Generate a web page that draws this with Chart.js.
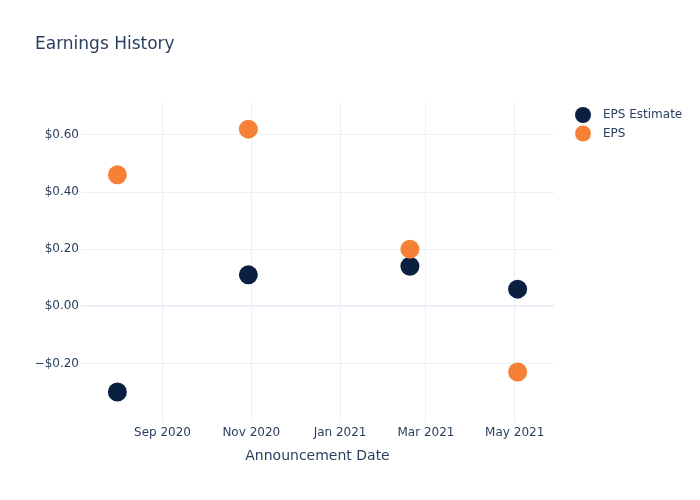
<!DOCTYPE html>
<html>
<head>
<meta charset="utf-8">
<script src="https://cdn.jsdelivr.net/npm/chart.js@4/dist/chart.umd.min.js"></script>
<style>
  html, body { margin: 0; padding: 0; background: #fff; }
  #wrap { width: 700px; height: 500px; position: relative; }
</style>
</head>
<body>
<div id="wrap"><canvas id="chart" width="700" height="500"></canvas></div>
<script>
// announcement dates (UTC) and values
const dates = ['2020-08-01', '2020-10-30', '2021-02-18', '2021-05-03'];
const epsEstimate = [-0.30, 0.11, 0.14, 0.06];
const eps = [0.46, 0.62, 0.20, -0.23];
const xTickDates = ['2020-09-01', '2020-11-01', '2021-01-01', '2021-03-01', '2021-05-01'];
const yTicks = [-0.2, 0, 0.2, 0.4, 0.6];
const xRange = ['2020-07-07', '2021-05-28'];
const yRange = [-0.405, 0.715];

const MONTHS = ['Jan', 'Feb', 'Mar', 'Apr', 'May', 'Jun', 'Jul', 'Aug', 'Sep', 'Oct', 'Nov', 'Dec'];
const ts = d => Date.parse(d + 'T00:00:00Z');

const NAVY = '#0b1f41';
const ORANGE = '#f68136';
const TEXT = '#2a3f5f';
const GRID = '#ebf0f8';
const FONT = '"DejaVu Sans", Verdana, sans-serif';

const toPoints = vals => dates.map((d, i) => ({ x: ts(d), y: vals[i] }));

// title, legend and x-axis title drawn at fixed spots like the plotly layout
const decorations = {
  id: 'decorations',
  afterDraw(chart) {
    const ctx = chart.ctx;
    const area = chart.chartArea;
    ctx.save();
    ctx.fillStyle = TEXT;
    ctx.textBaseline = 'middle';
    ctx.textAlign = 'left';
    ctx.font = `17px ${FONT}`;
    ctx.fillText('Earnings History', 35, 45);

    ctx.font = `14px ${FONT}`;
    ctx.textAlign = 'center';
    ctx.fillText('Announcement Date', (area.left + area.right) / 2, 456);

    const items = [['EPS Estimate', NAVY], ['EPS', ORANGE]];
    ctx.font = `12px ${FONT}`;
    ctx.textAlign = 'left';
    items.forEach(([label, color], i) => {
      const y = 115 + i * 18.5;
      ctx.beginPath();
      ctx.arc(583, y, 8, 0, Math.PI * 2);
      ctx.fillStyle = color;
      ctx.fill();
      ctx.fillStyle = TEXT;
      ctx.fillText(label, 603, y);
    });
    ctx.restore();
  }
};

new Chart(document.getElementById('chart'), {
  type: 'scatter',
  data: {
    datasets: [
      {
        label: 'EPS Estimate',
        data: toPoints(epsEstimate),
        backgroundColor: NAVY,
        borderWidth: 0,
        pointRadius: 9.5,
        pointHoverRadius: 9.5,
        order: 2
      },
      {
        label: 'EPS',
        data: toPoints(eps),
        backgroundColor: ORANGE,
        borderWidth: 0,
        pointRadius: 9.5,
        pointHoverRadius: 9.5,
        order: 1
      }
    ]
  },
  options: {
    responsive: false,
    animation: false,
    layout: { padding: { top: 102, right: 146, left: 0, bottom: 0 } },
    plugins: {
      legend: { display: false },
      tooltip: { enabled: false }
    },
    scales: {
      x: {
        type: 'linear',
        min: ts(xRange[0]),
        max: ts(xRange[1]),
        afterBuildTicks: s => { s.ticks = xTickDates.map(d => ({ value: ts(d) })); },
        afterFit: s => { s.height = 78; },
        border: { display: false },
        grid: { color: GRID, lineWidth: 1, drawTicks: false },
        ticks: {
          color: TEXT,
          font: { family: FONT, size: 12 },
          padding: 4,
          maxRotation: 0,
          callback: v => {
            const d = new Date(v);
            return `${MONTHS[d.getUTCMonth()]} ${d.getUTCFullYear()}`;
          }
        }
      },
      y: {
        min: yRange[0],
        max: yRange[1],
        afterBuildTicks: s => { s.ticks = yTicks.map(v => ({ value: v })); },
        afterFit: s => { s.width = 81; },
        border: { display: false },
        grid: {
          color: GRID,
          lineWidth: ctx => (ctx.tick && ctx.tick.value === 0 ? 2 : 1),
          drawTicks: false
        },
        ticks: {
          color: TEXT,
          font: { family: FONT, size: 12 },
          padding: 2,
          callback: v => (v < 0 ? '\u2212' : '') + '$' + Math.abs(v).toFixed(2)
        }
      }
    }
  },
  plugins: [decorations]
});
</script>
</body>
</html>
